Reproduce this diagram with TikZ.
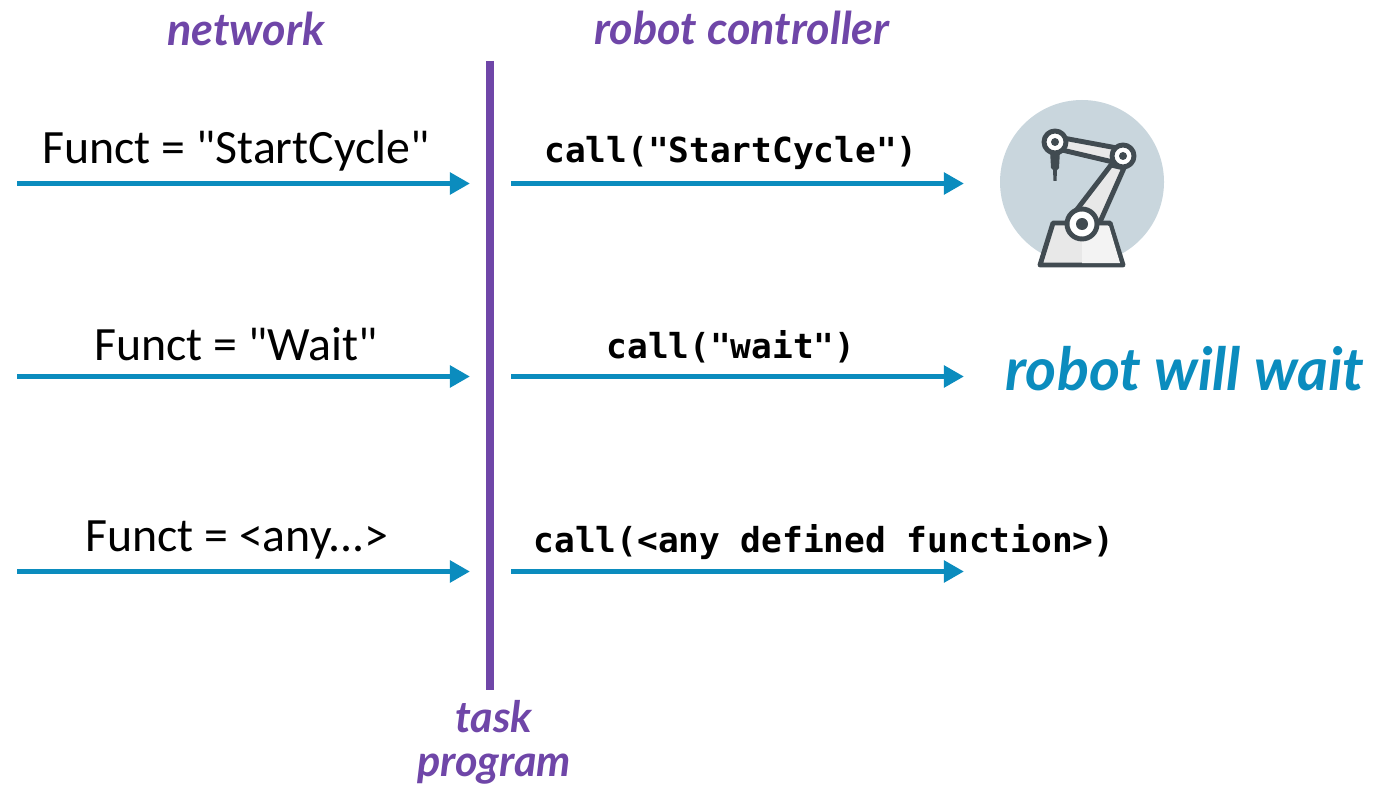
\documentclass[tikz,border=0pt]{standalone}
\usepackage{fontspec}
\setmainfont{Carlito}[Ligatures=TeXOff]
\newfontfamily\codefont{DejaVu Sans Mono}
\newfontfamily\handfont{Lato}
\usetikzlibrary{arrows.meta}
\definecolor{flowblue}{HTML}{0B8CBE}
\definecolor{notepurple}{HTML}{6F46A8}
\definecolor{robotdisc}{HTML}{C9D6DD}
\definecolor{robotink}{HTML}{414B51}
\definecolor{robotbody}{HTML}{E8E8E8}
\definecolor{robotlight}{HTML}{F3F3F3}
\tikzset{
  flow/.style={flowblue,line width=1.7pt,-{Triangle[length=5.7pt,width=6pt]}},
  msg/.style={font=\fontsize{13.6}{16}\selectfont,inner sep=0pt},
  code/.style={font=\codefont\bfseries\fontsize{9.8}{12}\selectfont,inner sep=0pt},
  note/.style={font=\handfont\bfseries\itshape\fontsize{12.8}{15}\selectfont,text=notepurple,inner sep=0pt,align=center},
  robotline/.style={draw=robotink,line width=1.4pt,line join=round}
}
\begin{document}
\begin{tikzpicture}[x=0.01cm,y=-0.01cm]
\useasboundingbox (0,0) rectangle (1373,785);

\node [note] (netlabel) at (246,29) {network};
\node [note] (ctrllabel) at (742,28) {robot controller};
\coordinate (bartop) at (490,61);
\node [note,font=\handfont\bfseries\itshape\fontsize{12.3}{15}\selectfont] (tasklabel) at (494,742) {task\\[-2.4pt]program};
\coordinate (barend) at (490,690);
\draw [notepurple,line width=2pt] (bartop) -- (barend);

% -------- row one -----------
\coordinate (netA) at (17,183.5);
\coordinate (taskA) at (470,183.5);
\coordinate (outA) at (511,183.5);
\coordinate (robotA) at (964,183.5);
\draw [flow] (netA) -- (taskA);
\draw [flow] (outA) -- (robotA);
\node [msg] (functA) at (236,151) {Funct = "StartCycle"};
\node [code] (callA) at (731,153) {call("StartCycle")};

% -------- row two -----------
\coordinate (netB) at (17,376.5);
\coordinate (taskB) at (470,376.5);
\coordinate (outB) at (511,376.5);
\coordinate (robotB) at (964,376.5);
\draw [flow] (netB) -- (taskB);
\draw [flow] (outB) -- (robotB);
\node [msg] (functB) at (236,344) {Funct = "Wait"};
\node [code] (callB) at (731,347) {call("wait")};
\node [note,text=flowblue,font=\handfont\bfseries\itshape\fontsize{16.9}{20}\selectfont] (waitlabel) at (1185,369) {robot will wait};

% -------- row three -----------
\coordinate (netC) at (17,571.5);
\coordinate (taskC) at (470,571.5);
\coordinate (outC) at (511,571.5);
\coordinate (robotC) at (964,571.5);
\draw [flow] (netC) -- (taskC);
\draw [flow] (outC) -- (robotC);
\node [msg] (functC) at (237,540) {Funct = <any...>};
\node [code] (callC) at (824,542) {call(<any defined function>)};

% -------- robot -----------
\fill [robotdisc] (1082,182) circle (82);
\draw [robotline,fill=robotbody] (1053,223) -- (1110,223) -- (1123,265) -- (1040,265) -- cycle;
\fill [robotlight] (1082,226) -- (1109,226) -- (1120,263) -- (1082,263) -- cycle;
\draw [robotline,fill=robotbody] (1075,212) -- (1111,165) -- (1124,168) -- (1100,222) -- cycle;
\draw [robotline,fill=robotbody] (1063,138) -- (1117,148) -- (1113,162) -- (1062,150) -- cycle;
\fill [robotink] (1050,150) -- (1060,150) -- (1059,168) -- (1057,170) -- (1056.5,181) -- (1053.5,181) -- (1053,170) -- (1051,168) -- cycle;
\draw [robotline,fill=white] (1055,142) circle (11);
\fill [robotink] (1055,142) circle (4);
\draw [robotline,fill=white] (1123,156) circle (11);
\fill [robotink] (1123,156) circle (4);
\draw [robotline,fill=white] (1082,224) circle (15);
\fill [robotink] (1082,224) circle (6);
\end{tikzpicture}
\end{document}
